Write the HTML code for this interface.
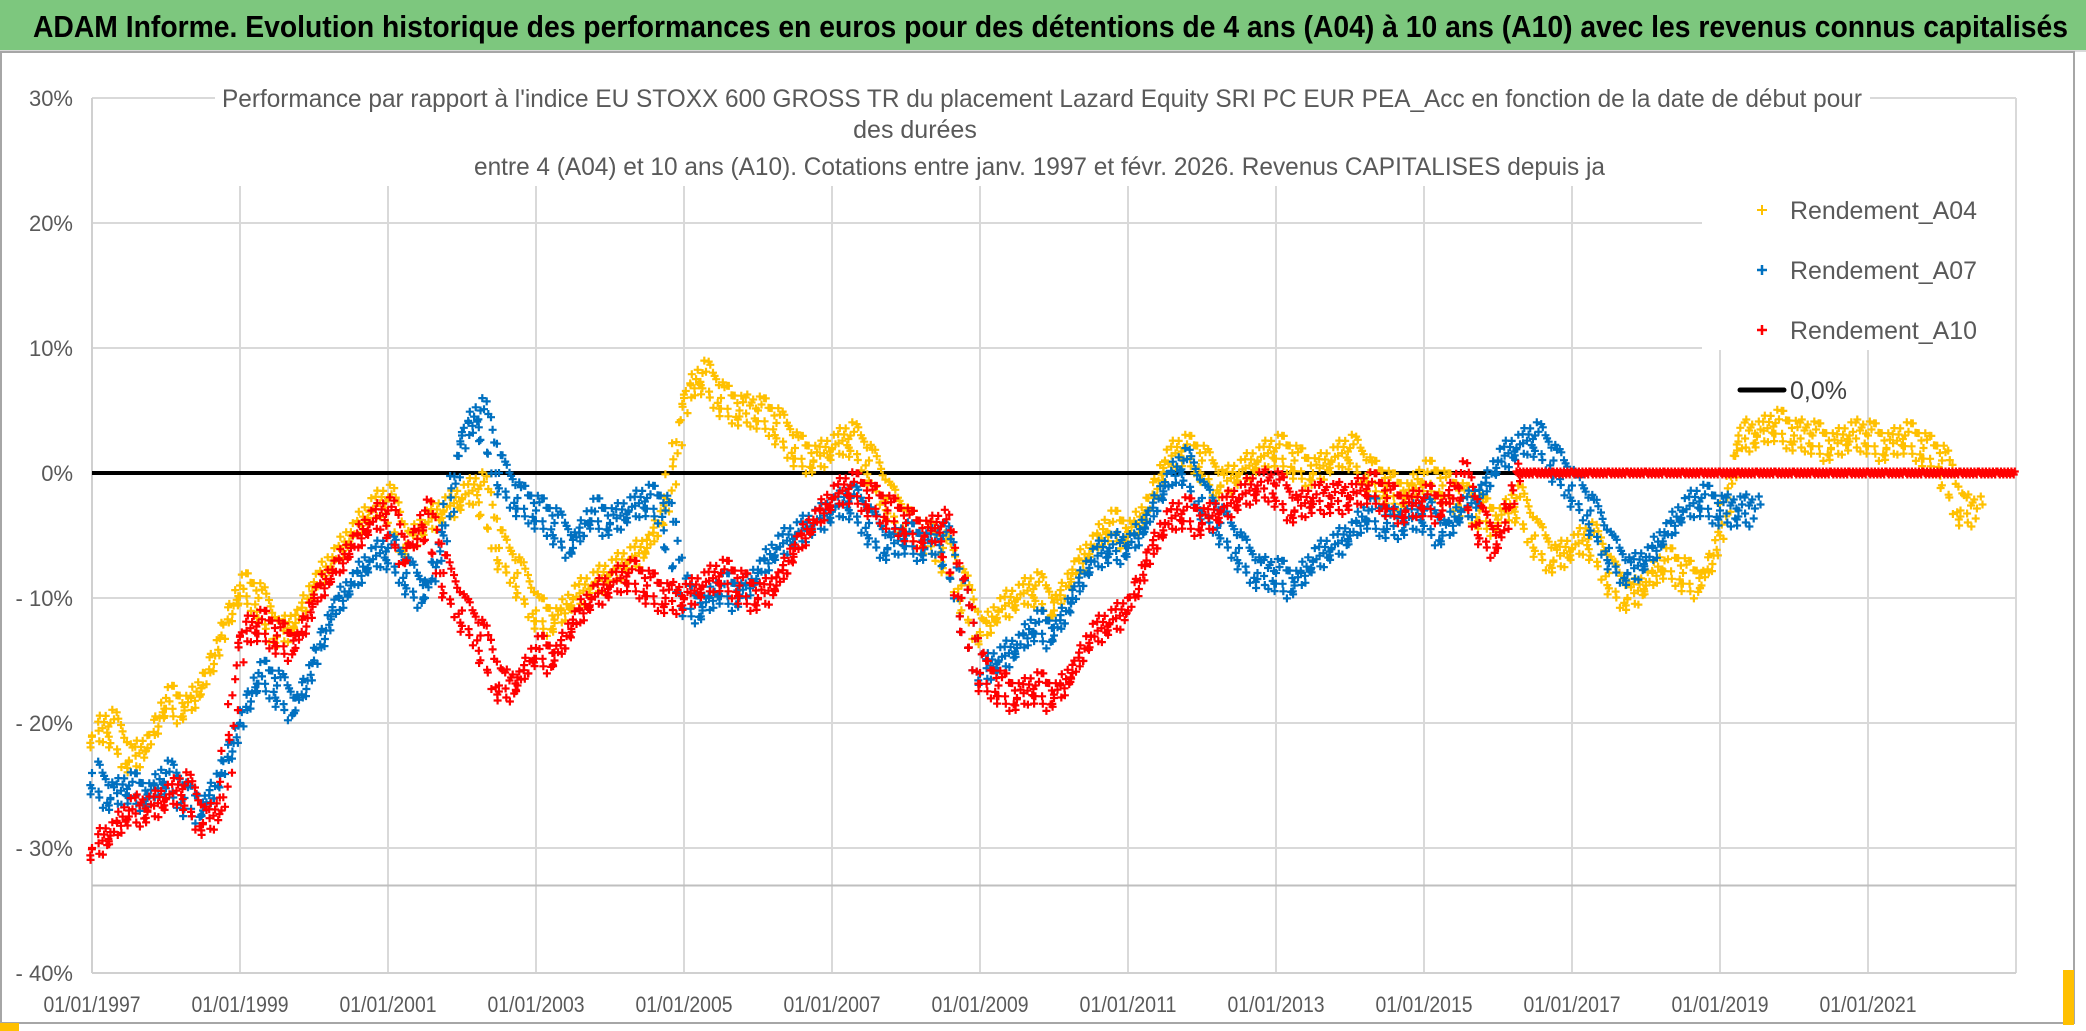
<!DOCTYPE html>
<html><head><meta charset="utf-8">
<style>
html,body{margin:0;padding:0;background:#fff;}
svg{display:block;font-family:"Liberation Sans",sans-serif;}
</style></head>
<body>
<svg id="chart" width="2086" height="1031" viewBox="0 0 2086 1031" xmlns="http://www.w3.org/2000/svg">
<rect x="0" y="0" width="2086" height="1031" fill="#fff"/>
<rect x="0" y="0" width="2086" height="50" fill="#7dc77e"/>
<line x1="0" y1="51" x2="2086" y2="51" stroke="#d9d9d9" stroke-width="2"/>
<text x="33" y="37" font-size="31" font-weight="bold" fill="#000" textLength="2035" lengthAdjust="spacingAndGlyphs">ADAM Informe. Evolution historique des performances en euros pour des détentions de 4 ans (A04) à 10 ans (A10) avec les revenus connus capitalisés</text>
<rect x="1" y="52" width="2073" height="971" fill="none" stroke="#a6a6a6" stroke-width="2"/>
<rect x="0" y="1023" width="19" height="8" fill="#ffc000"/>
<rect x="2063" y="970" width="11" height="55" fill="#ffc000"/>
<g id="grid"></g>
<g id="axes"></g>
<g id="marks"></g>
<g id="titles">
<rect x="215" y="78" width="1655" height="108" fill="#fff"/>
<text x="222" y="107" font-size="25" fill="#595959" textLength="1640" lengthAdjust="spacingAndGlyphs">Performance par rapport à l'indice EU STOXX 600 GROSS TR  du placement Lazard Equity SRI PC EUR PEA_Acc en fonction de la date de début pour</text>
<text x="915" y="138" font-size="25" fill="#595959" text-anchor="middle">des durées</text>
<text x="474" y="175" font-size="25" fill="#595959" textLength="1131" lengthAdjust="spacingAndGlyphs">entre 4 (A04) et 10 ans (A10). Cotations entre janv. 1997 et févr. 2026. Revenus CAPITALISES depuis ja</text>
</g>
<g id="legend">
<rect x="1702" y="185" width="313" height="165" fill="#fff"/>
<g>
<path d="M1757 210h10M1762 205v10" stroke="#ffc000" stroke-width="2"/>
<text x="1790" y="219" font-size="25" fill="#595959" textLength="187" lengthAdjust="spacingAndGlyphs">Rendement_A04</text></g>
<g>
<path d="M1757 270h10M1762 265v10" stroke="#0070c0" stroke-width="2.5"/>
<text x="1790" y="279" font-size="25" fill="#595959" textLength="187" lengthAdjust="spacingAndGlyphs">Rendement_A07</text></g>
<g>
<path d="M1757 330h10M1762 325v10" stroke="#ff0000" stroke-width="2.5"/>
<text x="1790" y="339" font-size="25" fill="#595959" textLength="187" lengthAdjust="spacingAndGlyphs">Rendement_A10</text></g>
<g>
<line x1="1740" y1="390" x2="1784" y2="390" stroke="#000" stroke-width="5" stroke-linecap="round"/>
<text x="1790" y="399" font-size="25" fill="#404040">0,0%</text></g>
</g>
</svg>
<script>
const yTicks = [30, 20, 10, 0, -10, -20, -30, -40];
const yTickLabels = ["30%", "20%", "10%", "0%", "- 10%", "- 20%", "- 30%", "- 40%"];
const xTickYears = [1997, 1999, 2001, 2003, 2005, 2007, 2009, 2011, 2013, 2015, 2017, 2019, 2021];
const xTickLabels = ["01/01/1997","01/01/1999","01/01/2001","01/01/2003","01/01/2005","01/01/2007","01/01/2009","01/01/2011","01/01/2013","01/01/2015","01/01/2017","01/01/2019","01/01/2021"];
const startYear = 1997;
const stepYears = 0.25;
const a04Values = [-21,-20,-23,-22,-18,-19,-17,-13,-9,-10,-13,-12,-9,-7,-5,-3,-2,-6,-4,-3,-2,-1,-6,-8,-11,-12,-10,-9,-8,-7,-6,-3,6,8,6,5,5,4,2,1,2,3,1,-2,-4,-5,-6,-9,-13,-11,-10,-9,-11,-8,-6,-4,-5,-3,1,2,1,-1,0,1,2,1,0,1,2,0,-1,-2,0,-1,-2,-3,-4,-2,-5,-7,-6,-5,-8,-10,-9,-7,-8,-9,-5,3,3,4,3,3,2,3,3,2,3,2,1,-3];
const a07Values = [-24,-26,-25,-26,-24,-26,-27,-24,-20,-16,-17,-19,-15,-11,-9,-7,-6,-8,-10,-5,3,5,0,-2,-3,-4,-6,-3,-4,-3,-2,-3,-10,-11,-9,-10,-8,-6,-5,-4,-3,-2,-4,-6,-5,-6,-5,-10,-16,-15,-14,-12,-13,-10,-7,-6,-6,-4,-1,1,-2,-4,-6,-8,-8,-9,-7,-6,-5,-3,-4,-4,-3,-5,-3,-2,1,2,3,1,-1,-3,-6,-8,-7,-5,-3,-2,-3,-3];
const a10Values = [-30,-29,-27,-27,-26,-25,-28,-27,-13,-12,-13,-14,-10,-8,-6,-4,-3,-7,-3,-8,-11,-13,-17,-17,-14,-15,-12,-10,-9,-8,-9,-10,-10,-9,-8,-9,-10,-9,-6,-4,-2,-1,-2,-3,-4,-5,-4,-10,-16,-17,-18,-17,-18,-16,-13,-12,-11,-7,-4,-3,-4,-3,-2,-1,-1,-3,-2,-2,-2,-1,-2,-3,-2,-3,0,-4,-6,0,0,0,0,0,0,0,0,0,0,0,0,0,0,0,0,0,0,0,0,0,0,0,0,0,0,0];

const NS = "http://www.w3.org/2000/svg";
const plotLeft = 92, plotRight = 2016, plotTop = 98, plotBottom = 973;
const yMin = -40, yMax = 30, xMin = 1997, xMax = 2023;
function xScale(yr){ return plotLeft + (yr - xMin) / (xMax - xMin) * (plotRight - plotLeft); }
function yScale(v){ return plotBottom - (v - yMin) / (yMax - yMin) * (plotBottom - plotTop); }
function mk(tag, attrs, parent){ const e = document.createElementNS(NS, tag); for (const k in attrs) e.setAttribute(k, attrs[k]); parent.appendChild(e); return e; }

const grid = document.getElementById('grid');
const axes = document.getElementById('axes');
yTicks.forEach((t, i) => {
  const y = yScale(t);
  const gl = mk('line', {x1: plotLeft, x2: plotRight, y1: y, y2: y, stroke: '#d9d9d9', 'stroke-width': 2}, grid);
  
  
  const lb = mk('text', {x: 73, y: y + 8, 'font-size': 22, fill: '#595959', 'text-anchor': 'end'}, axes);
  lb.textContent = yTickLabels[i];
  
  
});
xTickYears.forEach((yr, i) => {
  const x = xScale(yr);
  const gl = mk('line', {x1: x, x2: x, y1: plotTop, y2: plotBottom, stroke: '#d9d9d9', 'stroke-width': 2}, grid);
  
  
  const lb = mk('text', {x: x, y: 1012, 'font-size': 22, fill: '#595959', 'text-anchor': 'middle', textLength: 97, lengthAdjust: 'spacingAndGlyphs'}, axes);
  lb.textContent = xTickLabels[i];
  
  
});
const lastGrid = mk('line', {x1: plotRight, x2: plotRight, y1: plotTop, y2: plotBottom, stroke: '#d9d9d9', 'stroke-width': 2}, grid);


const ax = mk('line', {x1: plotLeft, x2: plotRight, y1: plotBottom, y2: plotBottom, stroke: '#d0d0d0', 'stroke-width': 2}, axes);


const yax = mk('line', {x1: plotLeft, x2: plotLeft, y1: plotTop, y2: plotBottom, stroke: '#d0d0d0', 'stroke-width': 2}, axes);


const ref = mk('line', {x1: plotLeft, x2: plotRight, y1: yScale(-33), y2: yScale(-33), stroke: '#bfbfbf', 'stroke-width': 2}, axes);



const marks = document.getElementById('marks');
const zero = mk('line', {x1: plotLeft, x2: plotRight, y1: yScale(0), y2: yScale(0), stroke: '#000', 'stroke-width': 4}, marks);



const jitterY = [0, -13, 9, -5, 15, -16, 6, -8, 12, -2, 3, -11, 16, -6, 8, -14];
const jitterX = [0, 5, -4, 7, -6, 2, -7, 4, -2, 6, -5, 1, -3, 7, -1, 3];
function drawSeries(values, color, name){
  const g = mk('g', {}, marks);
  
  
  let d = '';
  const n = 16;
  values.forEach((v, i) => {
    const nv = i + 1 < values.length ? values[i + 1] : v;
    const flat = (v === 0 && nv === 0);
    for (let k = 0; k < n; k++) {
      const f = k / n;
      const yr = startYear + (i + f) * stepYears;
      const val = v + (nv - v) * f;
      const x = xScale(yr) + (flat ? 0 : jitterX[k]);
      const y = yScale(val) + (flat ? (k % 3 - 1) * 1.5 : jitterY[k]);
      d += 'M' + (x - 4).toFixed(1) + ' ' + y.toFixed(1) + 'h8M' + x.toFixed(1) + ' ' + (y - 4).toFixed(1) + 'v8';
    }
  });
  const p = mk('path', {d: d, stroke: color, 'stroke-width': 2.2, fill: 'none'}, g);
  
  
}
drawSeries(a04Values, '#ffc000', 'series-a04');
drawSeries(a07Values, '#0070c0', 'series-a07');
drawSeries(a10Values, '#ff0000', 'series-a10');
</script>
</body></html>
